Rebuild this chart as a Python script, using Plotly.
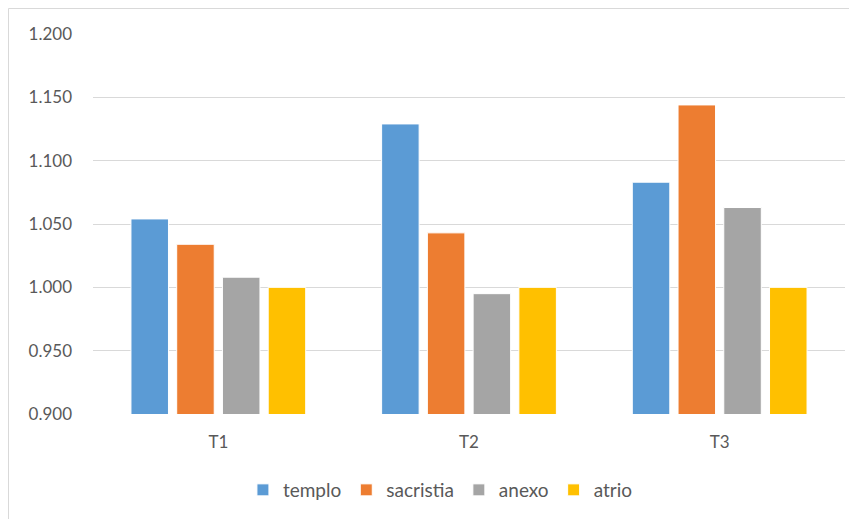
import plotly.graph_objects as go

categories = ["T1", "T2", "T3"]
templo = [1.054, 1.129, 1.083]
sacristia = [1.034, 1.043, 1.144]
anexo = [1.008, 0.995, 1.063]
atrio = [1.000, 1.000, 1.000]
y_ticks = [0.90, 0.95, 1.00, 1.05, 1.10, 1.15, 1.20]

series = [
    ("templo", templo, "#5B9BD5"),
    ("sacristia", sacristia, "#ED7D31"),
    ("anexo", anexo, "#A5A5A5"),
    ("atrio", atrio, "#FFC000"),
]

font_family = "Lato, 'Open Sans', sans-serif"

fig = go.Figure()
for name, vals, color in series:
    fig.add_trace(go.Bar(
        x=categories, y=vals, name=name,
        marker=dict(color=color, line=dict(color="white", width=1)),
    ))

W, H = 857, 519
L, R, T, B = 85, 20, 26, 113
pw, ph = W - L - R, H - T - B

fig.update_layout(
    width=W, height=H,
    margin=dict(l=L, r=R, t=T, b=B),
    paper_bgcolor="white", plot_bgcolor="white",
    barmode="group", bargap=0.27, bargroupgap=0.18,
    font=dict(family=font_family, color="#595959", size=14),
    showlegend=True,
    legend=dict(orientation="h", x=0.462, xanchor="center", y=-0.2, yanchor="middle",
                font=dict(size=19, color="#595959"), itemwidth=30, traceorder="normal"),
    xaxis=dict(showgrid=False, zeroline=False, showline=False, ticks="",
               tickfont=dict(size=17, color="#595959"), ticklabelstandoff=16),
    yaxis=dict(range=[0.9, 1.2], tickvals=y_ticks, tickformat=".3f",
               showgrid=True, gridcolor="#D9D9D9", gridwidth=1, zeroline=False,
               showline=False, ticks="",
               tickfont=dict(size=17, color="#595959"), ticklabelstandoff=20),
    shapes=[dict(type="rect", xref="paper", yref="paper",
                 x0=(0.5 - L) / pw, x1=(W + 20 - L) / pw,
                 y0=(T + ph - (H + 20)) / ph, y1=(T + ph - 0.5) / ph,
                 line=dict(color="#D9D9D9", width=1), fillcolor="rgba(0,0,0,0)", layer="below")],
)

fig.write_html("out.html")
